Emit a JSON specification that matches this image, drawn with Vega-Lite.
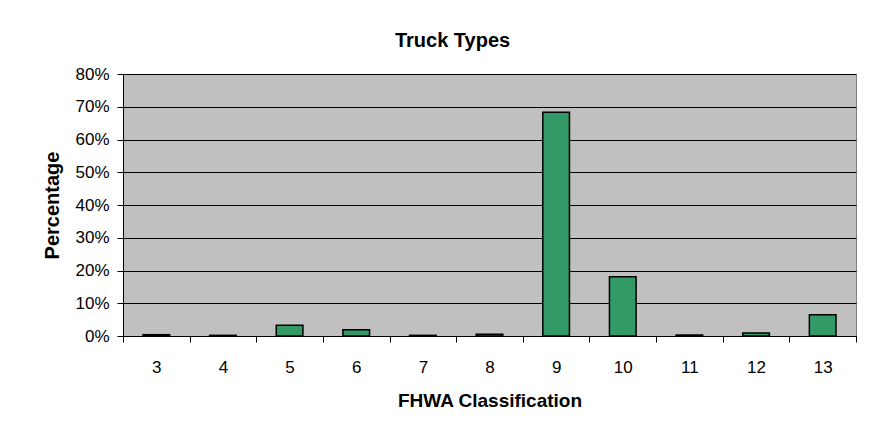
{
  "$schema": "https://vega.github.io/schema/vega-lite/v6.json",
  "autosize": "none",
  "width": 733,
  "height": 262,
  "padding": {"left": 123, "top": 74, "right": 20, "bottom": 88},
  "background": "white",
  "title": {
    "text": "Truck Types",
    "fontSize": 20,
    "font": "Liberation Sans",
    "fontWeight": "bold",
    "color": "black",
    "anchor": "middle",
    "dx": -37,
    "offset": 14
  },
  "data": {
    "values": [
      {"class": 3, "pct": 0.004},
      {"class": 4, "pct": 0.002},
      {"class": 5, "pct": 0.033},
      {"class": 6, "pct": 0.019},
      {"class": 7, "pct": 0.002},
      {"class": 8, "pct": 0.005},
      {"class": 9, "pct": 0.683},
      {"class": 10, "pct": 0.181},
      {"class": 11, "pct": 0.003},
      {"class": 12, "pct": 0.009},
      {"class": 13, "pct": 0.065}
    ]
  },
  "mark": {"type": "bar", "fill": "#339966", "stroke": "black", "strokeWidth": 1.5, "width": {"band": 0.4}},
  "encoding": {
    "x": {
      "field": "class",
      "type": "ordinal",
      "scale": {"paddingInner": 0, "paddingOuter": 0},
      "axis": {
        "title": "FHWA Classification",
        "labelAngle": 0,
        "tickBand": "extent",
        "grid": false,
        "labelFontSize": 17,
        "labelFont": "Liberation Sans",
        "labelColor": "black",
        "labelPadding": 17,
        "tickSize": 6,
        "tickColor": "black",
        "domainColor": "black",
        "titleFontSize": 19,
        "titleFont": "Liberation Sans",
        "titleFontWeight": "bold",
        "titleColor": "black",
        "titlePadding": 16
      }
    },
    "y": {
      "field": "pct",
      "type": "quantitative",
      "scale": {"domain": [0, 0.8], "nice": false},
      "axis": {
        "title": "Percentage",
        "values": [0, 0.1, 0.2, 0.3, 0.4, 0.5, 0.6, 0.7, 0.8],
        "format": ".0%",
        "grid": true,
        "gridColor": "black",
        "gridOpacity": 1,
        "gridWidth": 1,
        "labelFontSize": 17,
        "labelFont": "Liberation Sans",
        "labelColor": "black",
        "labelPadding": 8,
        "tickSize": 6,
        "tickColor": "black",
        "domainColor": "black",
        "titleFontSize": 20,
        "titleFont": "Liberation Sans",
        "titleFontWeight": "bold",
        "titleColor": "black",
        "titlePadding": 12
      }
    }
  },
  "config": {
    "view": {"fill": "#C0C0C0", "stroke": "#808080", "strokeWidth": 1}
  }
}
